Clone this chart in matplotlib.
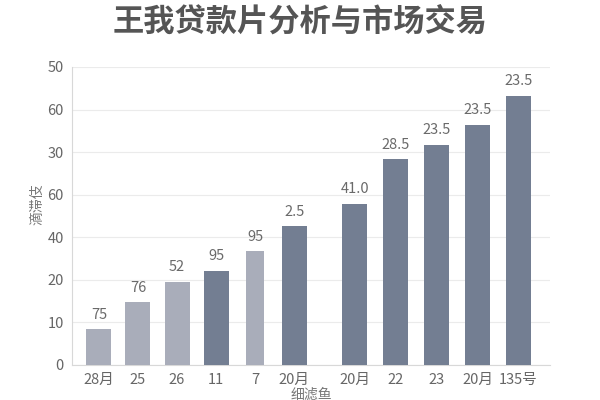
import matplotlib.pyplot as plt
import numpy as np

plt.rcParams['font.family'] = ['Noto Sans CJK SC', 'DejaVu Sans']

categories = ["28月", "25", "26", "11", "7", "20月", "20月", "22", "23", "20月", "135号"]
heights = [0.84, 1.47, 1.96, 2.21, 2.67, 3.26, 3.79, 4.83, 5.17, 5.64, 6.32]
value_labels = ["75", "76", "52", "95", "95", "2.5", "41.0", "28.5", "23.5", "23.5", "23.5"]
is_dark = [False, False, False, True, False, True, True, True, True, True, True]
ytick_labels = ["0", "10", "20", "40", "60", "30", "60", "50"]

light = "#a9adba"
dark = "#737e92"

# two groups: left six bars, then a gap and five slightly wider-spaced bars
x = np.concatenate([np.arange(6) * 1.0, 6.55 + np.arange(5) * 1.05])
widths = [0.64] * len(categories)
widths[4] = 0.46
colors = [dark if d else light for d in is_dark]

fig = plt.figure(figsize=(6, 4), dpi=100)
ax = fig.add_axes([0.12, 0.0875, 0.797, 0.745])

ax.bar(x, heights, width=widths, color=colors, zorder=3)
for xi, h, lab in zip(x, heights, value_labels):
    ax.text(xi, h + 0.18, lab, ha="center", va="bottom", fontsize=10.5, color="#6a6a6a")

ax.set_ylim(0, 7)
ax.set_yticks(range(len(ytick_labels)))
ax.set_yticklabels(ytick_labels)
ax.set_xlim(-0.69, 11.56)
ax.set_xticks(x)
ax.set_xticklabels(categories)
ax.tick_params(length=0, labelsize=10.5, labelcolor="#666666", pad=6)

ax.grid(axis="y", color="#ebebeb", linewidth=0.8, zorder=0)
for s in ["top", "right"]:
    ax.spines[s].set_visible(False)
for s in ["left", "bottom"]:
    ax.spines[s].set_color("#d8d8d8")

ax.set_ylabel("滴滞伎", fontsize=10, color="#777777")
ax.yaxis.set_label_coords(-0.058, 0.54)
ax.set_xlabel("细滤鱼", fontsize=10, color="#777777", labelpad=0)

fig.text(0.5, 0.945, "王我贷款片分析与市场交易", ha="center", va="center",
         fontsize=22.5, fontweight="bold", color="#555555")

fig.savefig("out.png", dpi=100)
